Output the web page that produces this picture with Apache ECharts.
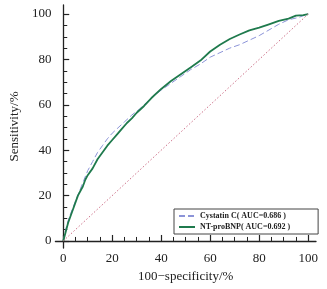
<!DOCTYPE html>
<html>
<head>
<meta charset="utf-8">
<script src="https://cdn.jsdelivr.net/npm/echarts@6/dist/echarts.min.js"></script>
<style>
  html, body { margin: 0; padding: 0; background: #fff; }
  #chart0 { width: 327px; height: 289px; }
</style>
</head>
<body>
<div id="chart0"></div>
<script>
// ROC curves, values (x = 100-specificity, y = sensitivity)
var bnpX = [0, 1, 2, 3, 4, 5, 6, 7, 8, 9, 10, 12, 14, 16, 18, 20, 22, 24, 26, 28, 30, 33, 36, 40, 44, 48, 52, 56, 60, 64, 68, 72, 76, 80, 84, 88, 92, 95, 98, 100];
var bnpY = [0, 4, 8, 11, 14, 17, 20, 22, 24, 27, 29, 32, 36, 39, 42, 44.5, 47, 49.5, 52, 54, 56.5, 59.5, 63, 67, 70.5, 73.5, 76.5, 79.5, 83.5, 86.5, 89, 91, 92.8, 94, 95.5, 97, 98, 99.3, 99.5, 100];

var cysX = [0, 1, 2, 3, 5, 7, 10, 12, 14, 16, 18, 20, 22, 25, 28, 31, 34, 37, 40, 44, 48, 52, 56, 60, 64, 68, 72, 76, 80, 84, 88, 92, 96, 100];
var cysY = [0, 5, 9, 12, 17.5, 23, 31, 35, 39, 42, 45, 47.5, 49.5, 52.5, 55.5, 58, 61, 64, 66.5, 69.5, 72.5, 75.5, 78, 81, 83, 85, 86.5, 88.5, 90.5, 93, 95.5, 97.5, 98.5, 100];

var refX = [0, 100];
var refY = [0, 100];

var majorTicks = [0, 20, 40, 60, 80, 100];
var minorTicks = [5, 10, 15, 25, 30, 35, 45, 50, 55, 65, 70, 75, 85, 90, 95];

var names = ['Cystatin C( AUC=0.686 )', 'NT-proBNP( AUC=0.692 )'];

var zip = function (xs, ys) {
    return xs.map(function (x, i) { return [x, ys[i]]; });
};

var font = '"Liberation Serif", "DejaVu Serif", serif';
var ink = '#222';

var mainAxis = function (extra) {
    var a = {
        type: 'value',
        splitLine: { show: false },
        axisLine: { show: true, lineStyle: { color: ink, width: 1.3 } },
        axisTick: { show: true, inside: true, length: 6, customValues: majorTicks, lineStyle: { color: ink, width: 1.2 } },
        nameTextStyle: { color: ink, fontFamily: font, fontSize: 13 }
    };
    return Object.assign(a, extra);
};

var minorAxis = function (extra) {
    var a = {
        type: 'value',
        splitLine: { show: false },
        axisLine: { show: false },
        axisTick: { show: true, inside: true, length: 4, customValues: minorTicks, lineStyle: { color: ink, width: 1 } },
        axisLabel: { show: false }
    };
    return Object.assign(a, extra);
};

var chart0 = echarts.init(document.getElementById('chart0'));
var option = {
    animation: false,
    grid: { left: 52, right: 11, top: 5, bottom: 41 },
    xAxis: [
        mainAxis({ min: -3.2, max: 103.2, position: 'bottom', name: '100\u2212specificity/%', nameLocation: 'middle', nameGap: 22,
            axisLabel: { customValues: majorTicks, color: ink, fontFamily: font, fontSize: 13, margin: 4 } }),
        minorAxis({ min: -3.2, max: 103.2, position: 'bottom' })
    ],
    yAxis: [
        mainAxis({ min: -3.1, max: 104, position: 'left', name: 'Sensitivity/%', nameLocation: 'middle', nameGap: 33,
            axisLabel: { customValues: majorTicks, color: ink, fontFamily: font, fontSize: 13, margin: 4 } }),
        minorAxis({ min: -3.1, max: 104, position: 'left' })
    ],
    legend: {
        left: 174,
        top: 209,
        orient: 'vertical',
        data: names,
        itemWidth: 16,
        itemHeight: 8,
        itemGap: 3,
        padding: [3, 28, 3, 4],
        borderColor: '#444',
        borderWidth: 1,
        itemStyle: { opacity: 0 },
        textStyle: { fontFamily: font, fontSize: 8, fontWeight: 'bold', color: ink }
    },
    series: [
        {
            name: names[0],
            type: 'line',
            data: zip(cysX, cysY),
            symbol: 'none',
            lineStyle: { color: '#8c94d8', width: 1, type: [6, 3] },
            itemStyle: { color: '#8c94d8' }
        },
        {
            name: names[1],
            type: 'line',
            data: zip(bnpX, bnpY),
            symbol: 'none',
            lineStyle: { color: '#1f7a4d', width: 1.8 },
            itemStyle: { color: '#1f7a4d' }
        },
        {
            name: 'ref',
            type: 'line',
            data: zip(refX, refY),
            symbol: 'none',
            silent: true,
            lineStyle: { color: '#cc7088', width: 1, type: [1.5, 2] }
        }
    ]
};
chart0.setOption(option);
</script>
</body>
</html>
